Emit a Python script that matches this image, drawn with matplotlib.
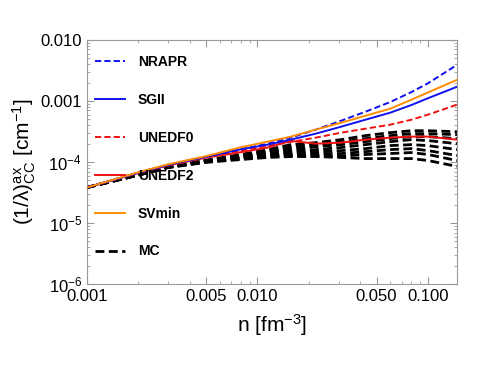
import matplotlib
matplotlib.use("Agg")
import matplotlib.pyplot as plt
from matplotlib.ticker import FixedLocator, FixedFormatter, NullFormatter

plt.rcParams['font.family'] = ['Liberation Sans', 'DejaVu Sans']
plt.rcParams['mathtext.fontset'] = 'custom'
plt.rcParams['mathtext.rm'] = 'Liberation Sans'
plt.rcParams['mathtext.it'] = 'Liberation Sans:italic'
plt.rcParams['mathtext.bf'] = 'Liberation Sans:bold'

n = [0.001, 0.002, 0.003, 0.005, 0.008, 0.0115, 0.0157, 0.022, 0.031, 0.043, 0.06, 0.08, 0.1, 0.148]

nrapr  = [3.83e-5, 6.7e-5, 9.0e-5, 1.22e-4, 1.62e-4, 2.0e-4, 2.51e-4, 3.40e-4, 4.76e-4, 6.67e-4, 9.6e-4, 1.4e-3, 1.95e-3, 3.9e-3]
sgii   = [3.83e-5, 6.7e-5, 9.0e-5, 1.22e-4, 1.62e-4, 1.93e-4, 2.33e-4, 2.92e-4, 3.8e-4, 4.94e-4, 6.43e-4, 8.6e-4, 1.11e-3, 1.71e-3]
unedf0 = [3.83e-5, 6.7e-5, 8.9e-5, 1.21e-4, 1.55e-4, 1.84e-4, 2.14e-4, 2.51e-4, 3.03e-4, 3.52e-4, 4.09e-4, 4.94e-4, 5.97e-4, 8.7e-4]
unedf2 = [3.83e-5, 6.6e-5, 8.8e-5, 1.18e-4, 1.45e-4, 1.73e-4, 2.22e-4, 2.0e-4, 2.08e-4, 2.33e-4, 2.51e-4, 2.61e-4, 2.61e-4, 2.33e-4]
svmin  = [3.83e-5, 6.8e-5, 9.2e-5, 1.25e-4, 1.75e-4, 2.16e-4, 2.61e-4, 3.40e-4, 4.41e-4, 5.74e-4, 7.47e-4, 1.05e-3, 1.38e-3, 2.22e-3]

mc = [
    [3.83e-5, 6.3e-5, 8.5e-5, 1.07e-4, 1.33e-4, 1.60e-4, 1.93e-4, 2.08e-4, 2.33e-4, 2.71e-4, 3.03e-4, 3.26e-4, 3.26e-4, 3.14e-4],
    [3.83e-5, 6.3e-5, 8.4e-5, 1.06e-4, 1.30e-4, 1.54e-4, 1.79e-4, 1.93e-4, 2.12e-4, 2.42e-4, 2.71e-4, 2.92e-4, 2.92e-4, 2.81e-4],
    [3.83e-5, 6.2e-5, 8.4e-5, 1.05e-4, 1.28e-4, 1.48e-4, 1.66e-4, 1.79e-4, 1.93e-4, 2.16e-4, 2.42e-4, 2.61e-4, 2.61e-4, 2.42e-4],
    [3.83e-5, 6.2e-5, 8.3e-5, 1.04e-4, 1.23e-4, 1.43e-4, 1.54e-4, 1.60e-4, 1.73e-4, 1.93e-4, 2.16e-4, 2.33e-4, 2.25e-4, 2.0e-4],
    [3.83e-5, 6.2e-5, 8.3e-5, 1.03e-4, 1.19e-4, 1.38e-4, 1.43e-4, 1.48e-4, 1.54e-4, 1.66e-4, 1.86e-4, 1.93e-4, 1.86e-4, 1.60e-4],
    [3.83e-5, 6.1e-5, 8.2e-5, 1.02e-4, 1.16e-4, 1.30e-4, 1.35e-4, 1.38e-4, 1.38e-4, 1.48e-4, 1.60e-4, 1.66e-4, 1.54e-4, 1.28e-4],
    [3.83e-5, 6.1e-5, 8.2e-5, 1.0e-4, 1.14e-4, 1.23e-4, 1.28e-4, 1.28e-4, 1.26e-4, 1.33e-4, 1.38e-4, 1.43e-4, 1.33e-4, 1.06e-4],
    [3.83e-5, 6.1e-5, 8.1e-5, 9.9e-5, 1.10e-4, 1.19e-4, 1.23e-4, 1.23e-4, 1.19e-4, 1.14e-4, 1.14e-4, 1.14e-4, 1.06e-4, 8.5e-5],
]

xticks = [0.001, 0.005, 0.01, 0.05, 0.1]
xticklabels = ['0.001', '0.005', '0.010', '0.050', '0.100']
yticks = [1e-6, 1e-5, 1e-4, 1e-3, 1e-2]
yticklabels = [r'$10^{-6}$', r'$10^{-5}$', r'$10^{-4}$', '0.001', '0.010']

fig = plt.figure(figsize=(4.8, 3.7), dpi=100)
ax = fig.add_axes([0.181, 0.232, 0.771, 0.660])

dash = (0, (3.2, 1.6))
for i, c in enumerate(mc):
    ax.plot(n, c, color='black', lw=2.0, linestyle=dash, label='MC' if i == 0 else None, zorder=2)
ax.plot(n, unedf0, color='#ee1111', lw=1.4, linestyle=dash, label='UNEDF0', zorder=3)
ax.plot(n, unedf2, color='#ee1111', lw=1.4, label='UNEDF2', zorder=3)
ax.plot(n, sgii, color='#1111ee', lw=1.4, label='SGII', zorder=3)
ax.plot(n, nrapr, color='#1111ee', lw=1.4, linestyle=dash, label='NRAPR', zorder=3)
ax.plot(n, svmin, color='#ff8c00', lw=1.4, label='SVmin', zorder=3)

ax.set_xscale('log')
ax.set_yscale('log')
ax.set_xlim(0.001, 0.148)
ax.set_ylim(1e-6, 1e-2)

ax.xaxis.set_major_locator(FixedLocator(xticks))
ax.xaxis.set_major_formatter(FixedFormatter(xticklabels))
ax.xaxis.set_minor_formatter(NullFormatter())
ax.yaxis.set_major_locator(FixedLocator(yticks))
ax.yaxis.set_major_formatter(FixedFormatter(yticklabels))
ax.yaxis.set_minor_formatter(NullFormatter())

for s in ax.spines.values():
    s.set_color('#999999')
ax.tick_params(which='both', direction='in', top=True, right=True, color='#999999', labelsize=12)
ax.tick_params(which='major', length=5)
ax.tick_params(which='minor', length=2.5)

ax.set_xlabel(r'n [fm$^{-3}$]', fontsize=15, labelpad=6)
ax.set_ylabel(r'(1/λ)$^{\rm ax}_{\rm CC}$ [cm$^{-1}$]', fontsize=15, labelpad=2)

handles, labels = ax.get_legend_handles_labels()
order = ['NRAPR', 'SGII', 'UNEDF0', 'UNEDF2', 'SVmin', 'MC']
hmap = dict(zip(labels, handles))
leg = ax.legend([hmap[k] for k in order], order, loc='upper left', frameon=False,
                prop={'weight': 'bold', 'size': 10}, labelspacing=1.72,
                handlelength=2.2, handletextpad=0.9, borderaxespad=0.3,
                bbox_to_anchor=(-0.005, 0.978))

fig.savefig('out.png', dpi=100)
